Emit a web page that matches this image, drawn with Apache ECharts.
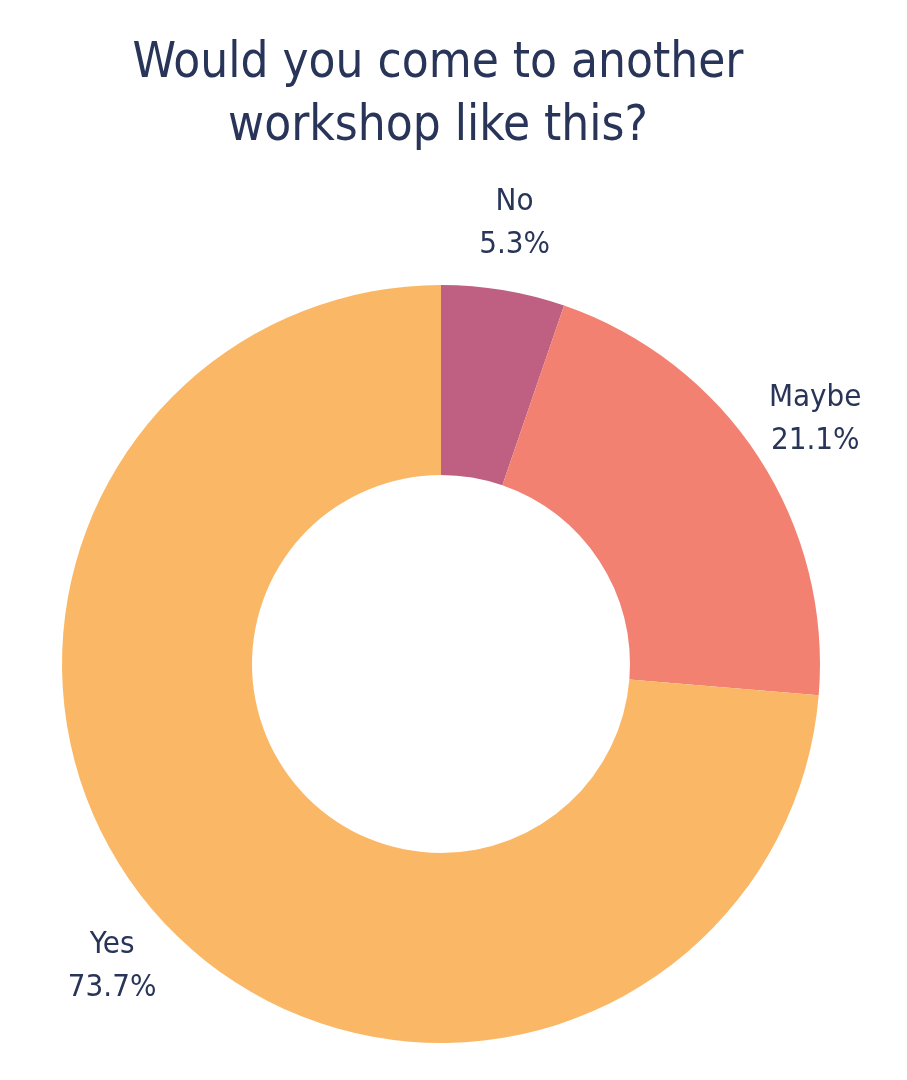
<!DOCTYPE html>
<html>
<head>
<meta charset="utf-8">
<script src="https://cdn.jsdelivr.net/npm/echarts@6/dist/echarts.min.js"></script>
<style>
html,body{margin:0;padding:0;background:#fff;}
#chart{width:907px;height:1080px;}
</style>
</head>
<body>
<div id="chart"></div>
<script>
const titleText = 'Would you come to another\nworkshop like this?';
const categories = ['No', 'Maybe', 'Yes'];
const counts = [1, 4, 14];
const colors = ['#BF5F82', '#F28172', '#FAB866'];

const FONT = '"DejaVu Sans Condensed", "Liberation Sans Narrow", sans-serif';
const TXT = '#283559';

const total = counts.reduce((a, b) => a + b, 0);
const data = categories.map((c, i) => ({ name: c, value: counts[i], itemStyle: { color: colors[i] } }));
const labelData = categories.map((c, i) => ({ name: c, value: counts[i] }));

const chart = echarts.init(document.getElementById('chart'), null, { renderer: 'canvas' });
chart.setOption({
  backgroundColor: '#ffffff',
  animation: false,
  title: {
    text: titleText,
    left: 433,
    top: 28,
    textAlign: 'center',
    textStyle: { fontFamily: FONT, fontSize: 49, fontWeight: 'normal', color: TXT, lineHeight: 63 }
  },
  series: [
    {
      type: 'pie',
      center: [441, 664],
      radius: [189, 379],
      startAngle: 90,
      clockwise: true,
      silent: true,
      label: { show: false },
      labelLine: { show: false },
      data: data
    },
    {
      type: 'pie',
      center: [441, 664],
      radius: [420, 468],
      startAngle: 90,
      clockwise: true,
      silent: true,
      itemStyle: { color: 'rgba(0,0,0,0)' },
      label: {
        show: true,
        position: 'inside',
        formatter: p => p.name + '\n' + (p.value / total * 100).toFixed(1) + '%',
        fontFamily: FONT,
        fontSize: 31,
        lineHeight: 43,
        color: TXT,
        align: 'center'
      },
      labelLine: { show: false },
      data: labelData
    }
  ]
});
</script>
</body>
</html>
